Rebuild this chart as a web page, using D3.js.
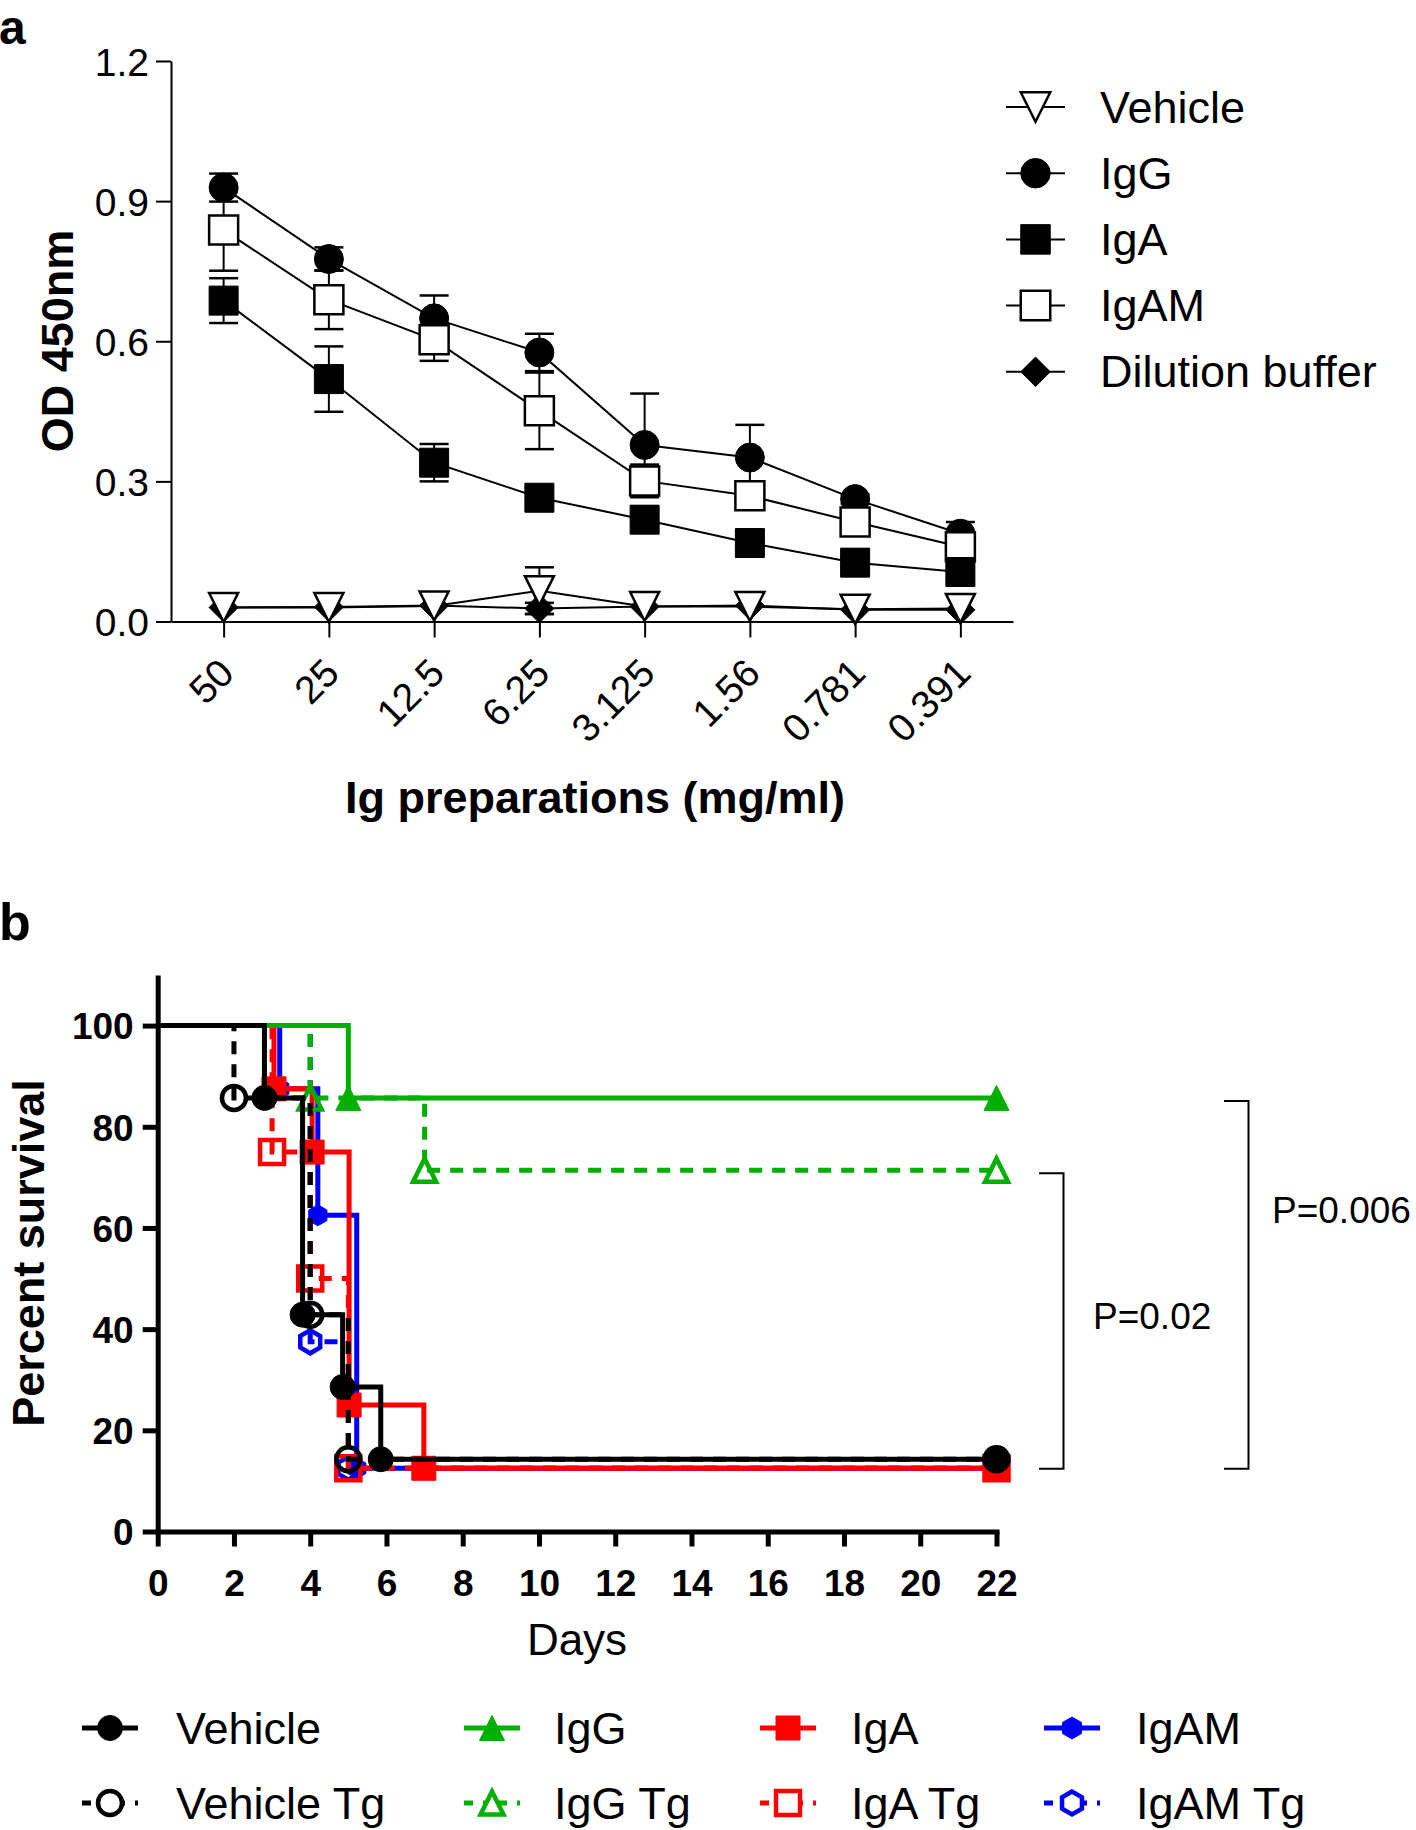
<!DOCTYPE html>
<html>
<head>
<meta charset="utf-8">
<script src="https://cdn.jsdelivr.net/npm/d3@7"></script>
<style>
  html, body { margin: 0; padding: 0; background: #fff; }
  svg { display: block; }
  text { font-family: "Liberation Sans", Arial, sans-serif; fill: #000; }
</style>
</head>
<body>
<svg id="chart" width="1416" height="1830"></svg>
<script>
// ---------------- Panel a data ----------------
const concLabels = ["50", "25", "12.5", "6.25", "3.125", "1.56", "0.781", "0.391"];
const odVehicle    = [0.030, 0.030, 0.033, 0.066, 0.032, 0.032, 0.026, 0.028];
const odVehicleErr = [0, 0, 0, 0.050, 0, 0, 0, 0];
const odIgG        = [0.929, 0.776, 0.649, 0.576, 0.378, 0.351, 0.262, 0.188];
const odIgGErr     = [0.030, 0.025, 0.049, 0.040, 0.110, 0.070, 0.010, 0.025];
const odIgA        = [0.687, 0.519, 0.340, 0.265, 0.218, 0.168, 0.126, 0.106];
const odIgAErr     = [0.048, 0.070, 0.040, 0.010, 0.010, 0.010, 0.010, 0.010];
const odIgAM       = [0.838, 0.689, 0.603, 0.451, 0.301, 0.269, 0.213, 0.160];
const odIgAMErr    = [0.087, 0.063, 0.045, 0.082, 0.035, 0.010, 0.010, 0.010];
const odBuffer     = [0.030, 0.031, 0.034, 0.028, 0.032, 0.034, 0.025, 0.025];
const odBufferErr  = [0, 0, 0, 0.012, 0, 0, 0, 0];
const odTicks = [0, 0.3, 0.6, 0.9, 1.2];
const legendANames = ["Vehicle", "IgG", "IgA", "IgAM", "Dilution buffer"];

// ---------------- Panel b data ----------------
const dayTicks = [0, 2, 4, 6, 8, 10, 12, 14, 16, 18, 20, 22];
const survTicks = [0, 20, 40, 60, 80, 100];
const vehicleDays   = [0, 2.8, 3.8, 4.85, 5.85, 22];
const vehicleSurv   = [100, 85.71, 42.86, 28.57, 14.29, 14.29];
const vehicleTgDays = [0, 2, 4, 5, 22];
const vehicleTgSurv = [100, 85.71, 42.86, 14.29, 14.29];
const iggDays       = [0, 5, 22];
const iggSurv       = [100, 85.71, 85.71];
const iggTgDays     = [0, 4, 7, 22];
const iggTgSurv     = [100, 85.71, 71.43, 71.43];
const igaDays       = [0, 3.05, 4.05, 5.02, 6.98, 22];
const igaSurv       = [100, 87.5, 75, 25, 12.5, 12.5];
const igaTgDays     = [0, 3, 4, 5, 22];
const igaTgSurv     = [100, 75, 50, 12.5, 12.5];
const igamDays      = [0, 3.2, 4.2, 5.22, 22];
const igamSurv      = [100, 87.5, 62.5, 12.5, 12.5];
const igamTgDays    = [0, 4, 5, 22];
const igamTgSurv    = [100, 37.5, 12.5, 12.5];
const legendBRow1 = ["Vehicle", "IgG", "IgA", "IgAM"];
const legendBRow2 = ["Vehicle Tg", "IgG Tg", "IgA Tg", "IgAM Tg"];
const pLabels = ["P=0.02", "P=0.006"];

// ---------------- helpers ----------------
const svg = d3.select("#chart");
const FONT = '"Liberation Sans", Arial, sans-serif';

function shapePath(kind, s) {
  const h = s / 2;
  switch (kind) {
    case "circle": return d3.symbol(d3.symbolCircle, Math.PI * h * h)();
    case "square": return `M${-h},${-h}H${h}V${h}H${-h}Z`;
    case "diamond": return `M0,${-h}L${h},0L0,${h}L${-h},0Z`;
    case "tridown": return `M${-h},${-h}L${h},${-h}L0,${h}Z`;
    case "triup": return `M0,${-h}L${h},${h}L${-h},${h}Z`;
    case "hex": {
      const pts = d3.range(6).map(i => {
        const a = Math.PI / 2 + i * Math.PI / 3;
        return [h * Math.cos(a), -h * Math.sin(a)];
      });
      return "M" + pts.map(p => p.join(",")).join("L") + "Z";
    }
  }
}

// ================= PANEL A =================
const xA = d3.scalePoint().domain(concLabels).range([171, 1013]).padding(0.5);
const yA = d3.scaleLinear().domain([0, 1.2]).range([621.5, 61]);

svg.append("text").text("a").attr("x", -1).attr("y", 44)
  .style("font-size", "48px").style("font-weight", "bold");

const gyA = svg.append("g").attr("transform", "translate(171,0)")
  .call(d3.axisLeft(yA).tickValues(odTicks).tickFormat(d3.format(".1f"))
    .tickSize(15).tickSizeOuter(0).tickPadding(7));
gyA.selectAll("path,line").attr("stroke", "#000").attr("stroke-width", 2);
gyA.selectAll("text").style("font-size", "39px").style("font-family", FONT).attr("dy", "0.36em");

const gxA = svg.append("g").attr("transform", "translate(0,621.5)")
  .call(d3.axisBottom(xA).tickSize(16).tickSizeOuter(0));
gxA.selectAll("path,line").attr("stroke", "#000").attr("stroke-width", 2);
gxA.selectAll("text").attr("y", 0).attr("dy", 0).attr("text-anchor", "end")
  .attr("transform", "translate(12,54) rotate(-45)")
  .style("font-size", "39px").style("font-family", FONT);

svg.append("text").text("Ig preparations (mg/ml)")
  .attr("x", 595).attr("y", 813).attr("text-anchor", "middle")
  .style("font-size", "45px").style("font-weight", "bold");
svg.append("text").text("OD 450nm")
  .attr("transform", "translate(73,341) rotate(-90)").attr("text-anchor", "middle")
  .style("font-size", "45px").style("font-weight", "bold");

const seriesA = [
  { vals: odIgG, err: odIgGErr, kind: "circle", fill: "#000" },
  { vals: odIgAM, err: odIgAMErr, kind: "square", fill: "#fff" },
  { vals: odIgA, err: odIgAErr, kind: "square", fill: "#000" },
  { vals: odBuffer, err: odBufferErr, kind: "diamond", fill: "#000" },
  { vals: odVehicle, err: odVehicleErr, kind: "tridown", fill: "#fff" }
];
const lineA = d3.line().x((d, i) => xA(concLabels[i])).y(d => yA(d));
const MS_A = 29;
seriesA.forEach(s => {
  const g = svg.append("g");
  g.append("path").attr("d", lineA(s.vals)).attr("fill", "none")
    .attr("stroke", "#000").attr("stroke-width", 2);
  s.vals.forEach((v, i) => {
    const e = s.err[i];
    if (e <= 0) return;
    const x = xA(concLabels[i]);
    g.append("line").attr("x1", x).attr("x2", x).attr("y1", yA(v - e)).attr("y2", yA(v + e))
      .attr("stroke", "#000").attr("stroke-width", 2);
    [v - e, v + e].forEach(c => {
      g.append("line").attr("x1", x - MS_A / 2).attr("x2", x + MS_A / 2)
        .attr("y1", yA(c)).attr("y2", yA(c)).attr("stroke", "#000").attr("stroke-width", 2.5);
    });
  });
  g.selectAll("path.m").data(s.vals).join("path").attr("class", "m")
    .attr("d", shapePath(s.kind, MS_A))
    .attr("transform", (d, i) => `translate(${xA(concLabels[i])},${yA(d)})`)
    .attr("fill", s.fill).attr("stroke", "#000").attr("stroke-width", s.fill === "#fff" ? 2.5 : 1);
});

// legend a
const legAKinds = [["tridown", "#fff"], ["circle", "#000"], ["square", "#000"], ["square", "#fff"], ["diamond", "#000"]];
legendANames.forEach((name, i) => {
  const cy = 107 + i * 66.2;
  svg.append("line").attr("x1", 1006).attr("x2", 1065).attr("y1", cy).attr("y2", cy)
    .attr("stroke", "#000").attr("stroke-width", 2);
  const [k, f] = legAKinds[i];
  svg.append("path").attr("d", shapePath(k, 29.5)).attr("transform", `translate(1035.5,${cy})`)
    .attr("fill", f).attr("stroke", "#000").attr("stroke-width", f === "#fff" ? 2.5 : 1);
  svg.append("text").text(name).attr("x", 1100).attr("y", cy + 15.5)
    .style("font-size", "45px");
});

// ================= PANEL B =================
const xB = d3.scaleLinear().domain([0, 22]).range([157.7, 996.5]);
const yB = d3.scaleLinear().domain([0, 110]).range([1531.5, 975]);

svg.append("text").text("b").attr("x", -1).attr("y", 940)
  .style("font-size", "52px").style("font-weight", "bold");

const GREEN = "#00b000", RED = "#ff0000", BLUE = "#0000ff", BLACK = "#000";
const DASH = "13,10";
const seriesB = [
  { t: igamTgDays, s: igamTgSurv, color: BLUE, dash: true, kind: "hex", open: true, size: 23 },
  { t: igamDays, s: igamSurv, color: BLUE, dash: false, kind: "hex", open: false, size: 21 },
  { t: igaTgDays, s: igaTgSurv, color: RED, dash: true, kind: "square", open: true, size: 24 },
  { t: igaDays, s: igaSurv, color: RED, dash: false, kind: "square", open: false, size: 24 },
  { t: iggTgDays, s: iggTgSurv, color: GREEN, dash: true, kind: "triup", open: true, size: 23 },
  { t: iggDays, s: iggSurv, color: GREEN, dash: false, kind: "triup", open: false, size: 25 },
  { t: vehicleTgDays, s: vehicleTgSurv, color: BLACK, dash: true, kind: "circle", open: true, size: 24 },
  { t: vehicleDays, s: vehicleSurv, color: BLACK, dash: false, kind: "circle", open: false, size: 25 }
];
const stepLine = d3.line().curve(d3.curveStepAfter).x(d => xB(d[0])).y(d => yB(d[1]));
seriesB.forEach(sr => {
  const pts = sr.t.map((t, i) => [t, sr.s[i]]);
  const g = svg.append("g");
  g.append("path").attr("d", stepLine(pts)).attr("fill", "none")
    .attr("stroke", sr.color).attr("stroke-width", 5)
    .attr("stroke-dasharray", sr.dash ? DASH : null);
  g.selectAll("path.m").data(pts.slice(1)).join("path").attr("class", "m")
    .attr("d", shapePath(sr.kind, sr.size))
    .attr("transform", d => `translate(${xB(d[0])},${yB(d[1])})`)
    .attr("fill", sr.open ? "none" : sr.color)
    .attr("stroke", sr.color).attr("stroke-width", sr.open ? 4.5 : 1);
});

// axes b (drawn over the curves)
const gyB = svg.append("g").attr("transform", "translate(157.7,0)")
  .call(d3.axisLeft(yB).tickValues(survTicks).tickSize(15).tickSizeOuter(0).tickPadding(9));
gyB.selectAll("path,line").attr("stroke", "#000").attr("stroke-width", 5);
gyB.selectAll("text").style("font-size", "37px").style("font-weight", "bold")
  .style("font-family", FONT).attr("dy", "0.36em");

const gxB = svg.append("g").attr("transform", "translate(0,1531.5)")
  .call(d3.axisBottom(xB).tickValues(dayTicks).tickSize(15).tickSizeOuter(0).tickPadding(23));
gxB.selectAll("path,line").attr("stroke", "#000").attr("stroke-width", 5);
gxB.select("path.domain").attr("stroke-linecap", "square");
gxB.selectAll("text").style("font-size", "37px").style("font-weight", "bold")
  .style("font-family", FONT);

svg.append("text").text("Days").attr("x", 577).attr("y", 1655).attr("text-anchor", "middle")
  .style("font-size", "44px");
svg.append("text").text("Percent survival")
  .attr("transform", "translate(44,1253) rotate(-90)").attr("text-anchor", "middle")
  .style("font-size", "45px").style("font-weight", "bold");

// significance brackets
const brackets = [
  { top: 71.43, bottom: 13.6, x: 1063.5, x0: 1039, label: pLabels[0], lx: 1093, ly: 1328.5 },
  { top: 85.71, bottom: 13.6, x: 1248.5, x0: 1224, label: pLabels[1], lx: 1272, ly: 1223 }
];
brackets.forEach(b => {
  const yT = yB(b.top) + 3, yBt = yB(b.bottom) + 6;
  svg.append("path").attr("d", `M${b.x0},${yT}H${b.x}V${yBt}H${b.x0}`)
    .attr("fill", "none").attr("stroke", "#000").attr("stroke-width", 2);
  svg.append("text").text(b.label).attr("x", b.lx).attr("y", b.ly).style("font-size", "37px");
});

// legend b
const legCols = [110, 492, 788, 1072];
const legTextX = [176, 554, 851, 1136];
const legColors = [BLACK, GREEN, RED, BLUE];
const legKinds = [["circle", 25, 24], ["triup", 25, 23], ["square", 24, 24], ["hex", 22, 23]];
[legendBRow1, legendBRow2].forEach((row, r) => {
  const cy = 1728 + r * 75;
  row.forEach((name, i) => {
    const cx = legCols[i];
    svg.append("line").attr("x1", cx - 28).attr("x2", cx + 28).attr("y1", cy).attr("y2", cy)
      .attr("stroke", legColors[i]).attr("stroke-width", 5)
      .attr("stroke-dasharray", r === 1 ? "9,10,3,12,9,10" : null);
    const [k, s1, s2] = legKinds[i];
    svg.append("path").attr("d", shapePath(k, r === 0 ? s1 : s2))
      .attr("transform", `translate(${cx},${cy})`)
      .attr("fill", r === 0 ? legColors[i] : "#fff")
      .attr("stroke", legColors[i]).attr("stroke-width", r === 0 ? 1 : 4.5);
    svg.append("text").text(name).attr("x", legTextX[i]).attr("y", cy + 16)
      .style("font-size", "45px");
  });
});
</script>
</body>
</html>
